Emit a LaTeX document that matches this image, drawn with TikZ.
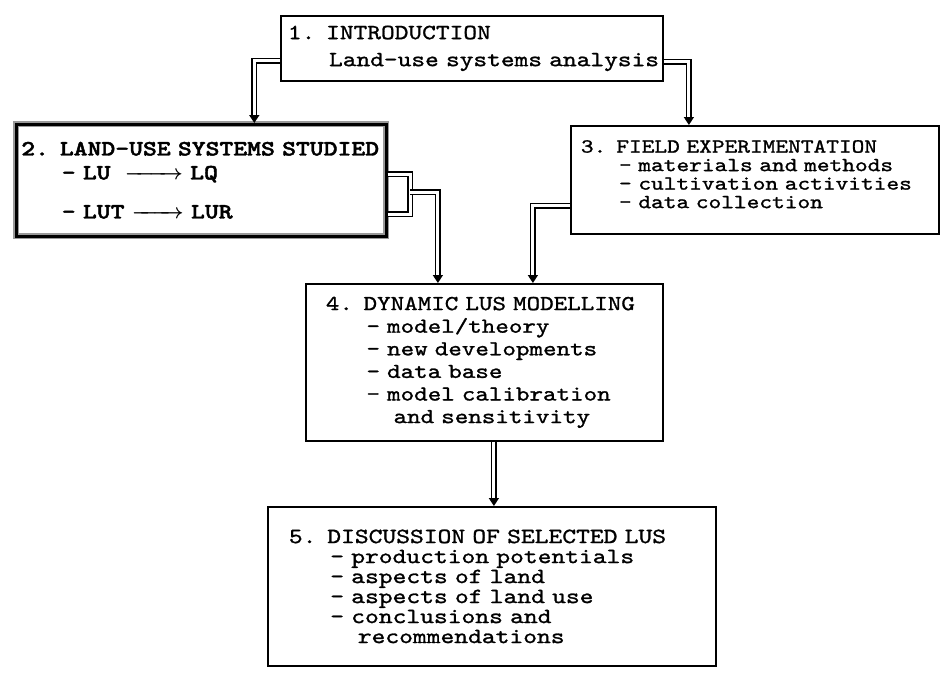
\documentclass[tikz,border=0pt]{standalone}
\usepackage{fontspec}
\usetikzlibrary{arrows.meta}
\newfontfamily\typefont{lmmono10-regular.otf}[FakeStretch=1.21,FakeBold=1.2]
\newfontfamily\heavyfont{lmmonolt10-bold.otf}[FakeStretch=1.21,FakeBold=2]
\newcommand\ind{\phantom{xxx}}
% every space as wide as one letter
\newcommand\evenspace{\fontdimen2\font=\fontcharwd\font`\x\relax}
\tikzset{
  stage/.style={draw, line width=1.8pt, anchor=north west, align=left, inner ysep=0pt},
  heavy/.style={line width=2.6pt, preaction={draw=black!40, line width=6pt}},
  feedline/.style={double, double distance=3pt, line width=1.6pt},
  feed/.style={feedline, -{Triangle[width=10pt,length=8pt]}}
}
\begin{document}
\begin{tikzpicture}[x=1pt,y=-1pt]
    \useasboundingbox (0,0) rectangle (941,674);
    \node[stage, text width=368pt, inner xsep=7pt, minimum height=65pt,
      font=\typefont\fontsize{21.6}{27}\selectfont\evenspace] (intro) at (280,15)
      {1. INTRODUCTION\\\mbox{\ind Land-use systems analysis}};
    \node[stage, heavy, text width=362pt, inner xsep=4pt, minimum height=112pt,
      font=\heavyfont\fontsize{21.8}{24}\selectfont\evenspace] (landuse) at (15,123)
      {\mbox{\hspace*{1pt}2. LAND-USE SYSTEMS STUDIED}\\
       \ind - LU \makebox[65pt][r]{\makebox[58pt]{\boldmath\rightarrowfill}} LQ\\[15pt]
       \ind - LUT \makebox[52pt]{\boldmath\rightarrowfill} LUR};
    \node[stage, text width=348pt, inner xsep=10pt, minimum height=108pt, text depth=67pt,
      font=\typefont\fontsize{20}{18.5}\selectfont\evenspace] (field) at (570,125)
      {3. FIELD EXPERIMENTATION\\
       \ind - materials and methods\\
       \mbox{\ind - cultivation activities}\\
       \ind - data collection};
    \node[stage, text width=317pt, inner xsep=20pt, minimum height=157pt,
      font=\typefont\fontsize{21.3}{22.6}\selectfont\evenspace] (model) at (305,283)
      {\mbox{4. DYNAMIC LUS MODELLING}\\
       \ind - model/theory\\
       \ind - new developments\\
       \ind - data base\\
       \ind - model calibration\\
       \ind\phantom{xx}and sensitivity};
    \node[stage, text width=406pt, inner xsep=21pt, minimum height=159pt,
      font=\typefont\fontsize{21.7}{20}\selectfont\evenspace] (discuss) at (267,506)
      {5. DISCUSSION OF SELECTED LUS\\
       \ind - production potentials\\
       \ind - aspects of land\\
       \ind - aspects of land use\\
       \ind - conclusions and\\
       \ind\phantom{xx}recommendations};
    \coordinate (join) at (410,192);
    \coordinate (drop) at ([xshift=9.5pt]model.south);
    \draw[feed] ([yshift=-12.5pt]intro.west) -| ([xshift=53pt]landuse.north);
    \draw[feed] ([yshift=-13.5pt]intro.east) -| ([xshift=-66pt]field.north);
    \draw[feedline] ([yshift=6pt]landuse.east) -| (join) |- ([yshift=-34pt]landuse.east);
    \draw[feed] (join) -| ([xshift=-46.5pt]model.north);
    \draw[feed] ([yshift=-26pt]field.west) -| ([xshift=48.5pt]model.north);
    \draw[feed] (drop) -- (drop |- discuss.north);
\end{tikzpicture}
\end{document}
